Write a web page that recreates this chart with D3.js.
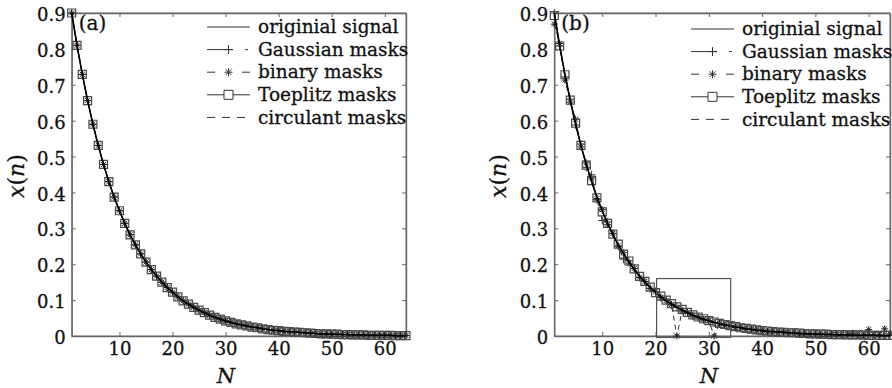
<!DOCTYPE html>
<html>
<head>
<meta charset="utf-8">
<script src="https://cdnjs.cloudflare.com/ajax/libs/d3/7.8.5/d3.min.js"></script>
<style>
body { margin: 0; background: #fff; }
svg { display: block; }
svg text { font-family: "DejaVu Serif", "Liberation Serif", serif; fill: #111; stroke: #111; stroke-width: 0.3px; }
</style>
</head>
<body>
<div id="chart"></div>
<script>
// sample index n = 1..64
var nIndex = d3.range(1, 65);

var xTicks = [10, 20, 30, 40, 50, 60];
var yTicks = [0, 0.1, 0.2, 0.3, 0.4, 0.5, 0.6, 0.7, 0.8, 0.9];

var legendNames = ["originial signal", "Gaussian masks", "binary masks", "Toeplitz masks", "circulant masks"];

// original signal
var signal = [0.900,0.810,0.729,0.656,0.590,0.531,0.478,0.430,0.387,0.349,
              0.314,0.282,0.254,0.229,0.206,0.185,0.167,0.150,0.135,0.122,
              0.109,0.098,0.089,0.080,0.072,0.065,0.058,0.052,0.047,0.042,
              0.038,0.034,0.031,0.028,0.025,0.023,0.020,0.018,0.016,0.015,
              0.013,0.012,0.011,0.010,0.009,0.008,0.007,0.006,0.006,0.005,
              0.005,0.004,0.004,0.003,0.003,0.003,0.002,0.002,0.002,0.002,
              0.002,0.001,0.001,0.001];

// panel (b) reconstructions
var gaussianB = [0.900,0.808,0.722,0.660,0.588,0.535,0.470,0.449,0.380,0.322,
                 0.318,0.285,0.250,0.214,0.210,0.188,0.163,0.152,0.132,0.124,
                 0.107,0.100,0.086,0.082,0.070,0.066,0.056,0.053,0.045,0.043,
                 0.037,0.035,0.030,0.029,0.024,0.024,0.019,0.019,0.015,0.016,
                 0.012,0.013,0.010,0.012,0.008,0.010,0.006,0.007,0.005,0.006,
                 0.004,0.005,0.003,0.005,0.002,0.004,0.003,0.003,0.001,0.004,
                 0.002,0.003,0.001,0.002];

var binaryB = [0.869,0.815,0.713,0.652,0.604,0.527,0.482,0.440,0.383,0.352,
               0.310,0.286,0.251,0.232,0.203,0.188,0.164,0.152,0.133,0.123,
               0.107,0.099,0.088,0.000,0.071,0.066,0.057,0.053,0.046,0.043,
               0.000,0.035,0.030,0.029,0.024,0.023,0.019,0.019,0.016,0.015,
               0.012,0.013,0.010,0.011,0.009,0.010,0.006,0.008,0.005,0.006,
               0.004,0.005,0.004,0.004,0.003,0.004,0.008,0.003,0.002,0.018,
               0.003,0.004,0.020,0.006];

var toeplitzB = [0.893,0.808,0.728,0.657,0.593,0.531,0.476,0.433,0.385,0.346,
                 0.314,0.284,0.256,0.228,0.209,0.187,0.166,0.152,0.136,0.121,
                 0.111,0.100,0.090,0.081,0.074,0.066,0.059,0.053,0.048,0.043,
                 0.039,0.035,0.032,0.029,0.026,0.023,0.021,0.019,0.017,0.015,
                 0.014,0.012,0.011,0.010,0.009,0.009,0.008,0.007,0.006,0.006,
                 0.005,0.005,0.004,0.004,0.004,0.003,0.003,0.003,0.003,0.002,
                 0.002,0.002,0.002,0.002];

// zoom box drawn in panel (b): [n0, n1, y0, y1]
var zoomBox = [20.2, 34.1, -0.004, 0.16];

var W = 892, H = 388;
var svg = d3.select("#chart").append("svg")
    .attr("width", W)
    .attr("height", H);
svg.append("rect").attr("width", W).attr("height", H).attr("fill", "#fff");

// marker shapes
function squarePath(s) {
    var p = d3.path();
    p.rect(-s / 2, -s / 2, s, s);
    return p.toString();
}
function plusPath(s) {
    var p = d3.path();
    p.moveTo(-s / 2, 0); p.lineTo(s / 2, 0);
    p.moveTo(0, -s / 2); p.lineTo(0, s / 2);
    return p.toString();
}
function starPath(s) {
    var p = d3.path(), d = s / 2 * 0.72;
    p.moveTo(-s / 2, 0); p.lineTo(s / 2, 0);
    p.moveTo(0, -s / 2); p.lineTo(0, s / 2);
    p.moveTo(-d, -d); p.lineTo(d, d);
    p.moveTo(-d, d); p.lineTo(d, -d);
    return p.toString();
}

var series = [
    {key: "gaussian", dash: "9,4,2,4", marker: plusPath(8), msw: 1, mcol: "#333", lcol: "#333", lw: 1},
    {key: "binary", dash: "5,4", marker: starPath(7), msw: 1, mcol: "#222", lcol: "#333", lw: 1},
    {key: "toeplitz", dash: null, marker: squarePath(8), msw: 1.2, mcol: "#4a4a4a", lcol: "#333", lw: 1},
    {key: "circulant", dash: "6,5", marker: null, lcol: "#333", lw: 1}
];

function drawPanel(opt) {
    var g = svg.append("g");
    var x = d3.scaleLinear().domain([1, 64]).range([opt.left, opt.right]);
    var y = d3.scaleLinear().domain([0, 0.9]).range([336, 13]);

    // box
    g.append("rect")
        .attr("x", opt.left).attr("y", y(0.9))
        .attr("width", opt.right - opt.left).attr("height", y(0) - y(0.9))
        .attr("fill", "none").attr("stroke", "#888").attr("stroke-width", 1);

    var fmt = function(d) { return d === 0 ? "0" : d3.format(".1f")(d); };

    var axL = g.append("g")
        .attr("transform", "translate(" + opt.left + ",0)")
        .call(d3.axisLeft(y).tickValues(yTicks).tickFormat(fmt).tickSizeInner(-4).tickSizeOuter(0).tickPadding(6));
    var axB = g.append("g")
        .attr("transform", "translate(0," + y(0) + ")")
        .call(d3.axisBottom(x).tickValues(xTicks).tickSizeInner(-4).tickSizeOuter(0).tickPadding(6));
    g.append("g")
        .attr("transform", "translate(" + opt.right + ",0)")
        .call(d3.axisRight(y).tickValues(yTicks).tickFormat("").tickSizeInner(-4).tickSizeOuter(0));
    g.append("g")
        .attr("transform", "translate(0," + y(0.9) + ")")
        .call(d3.axisTop(x).tickValues(xTicks).tickFormat("").tickSizeInner(-4).tickSizeOuter(0));

    g.selectAll(".domain").attr("stroke", "#666").attr("stroke-width", 1.4);
    g.selectAll(".tick line").attr("stroke", "#666");
    g.selectAll("g").attr("font-family", null).attr("font-size", null);
    g.selectAll(".tick text")
        .style("font-family", "'DejaVu Serif', serif")
        .style("font-size", "18px")
        .attr("fill", "#111");
    axL.selectAll(".tick text").attr("dy", "0.42em");

    // axis titles
    g.append("text")
        .attr("x", opt.nLabelX).attr("y", 383)
        .attr("text-anchor", "middle")
        .style("font-size", "21px").style("font-style", "italic")
        .text("N");
    var yl = g.append("text")
        .attr("transform", "translate(" + opt.yLabelX + ",176) rotate(-90)")
        .attr("text-anchor", "middle")
        .style("font-size", "22px");
    yl.append("tspan").style("font-style", "italic").text("x");
    yl.append("tspan").text("(");
    yl.append("tspan").style("font-style", "italic").text("n");
    yl.append("tspan").text(")");

    // panel tag
    g.append("text")
        .attr("x", opt.left + 7).attr("y", 30)
        .style("font-size", "20px")
        .text(opt.tag);

    var line = d3.line()
        .x(function(d, i) { return x(nIndex[i]); })
        .y(function(d) { return y(d); });

    series.forEach(function(s) {
        var vals = opt.data[s.key];
        g.append("path")
            .datum(vals)
            .attr("d", line)
            .attr("fill", "none")
            .attr("stroke", s.lcol)
            .attr("stroke-width", s.lw)
            .attr("stroke-dasharray", s.dash);
        if (s.marker) {
            g.append("g").selectAll("path")
                .data(vals)
                .join("path")
                .attr("transform", function(d, i) { return "translate(" + x(nIndex[i]) + "," + y(d) + ")"; })
                .attr("d", s.marker)
                .attr("fill", "none")
                .attr("stroke", s.mcol)
                .attr("stroke-width", s.msw);
        }
    });

    // original signal on top
    g.append("path")
        .datum(opt.data.signal)
        .attr("d", line)
        .attr("fill", "none")
        .attr("stroke", "#000")
        .attr("stroke-width", 1.6);

    if (opt.box) {
        g.append("rect")
            .attr("x", x(opt.box[0])).attr("y", y(opt.box[3]))
            .attr("width", x(opt.box[1]) - x(opt.box[0]))
            .attr("height", y(opt.box[2]) - y(opt.box[3]))
            .attr("fill", "none").attr("stroke", "#555").attr("stroke-width", 1.2);
    }

    // legend
    var lg = g.append("g");
    legendNames.forEach(function(name, i) {
        var cy = opt.legY + i * 22.6;
        var x0 = opt.legX, x1 = opt.legX + 43, xm = (x0 + x1) / 2;
        var row = lg.append("g");
        var dash = [null, "26,12,3,40", "8,27,8", null, "8,7"][i];
        row.append("line")
            .attr("x1", x0).attr("x2", x1).attr("y1", cy).attr("y2", cy)
            .attr("stroke", "#333").attr("stroke-width", 1)
            .attr("stroke-dasharray", dash);
        var mk = [null, plusPath(9), starPath(8), squarePath(9), null][i];
        if (mk) {
            row.append("path")
                .attr("transform", "translate(" + xm + "," + cy + ")")
                .attr("d", mk)
                .attr("fill", i === 3 ? "#fff" : "none")
                .attr("stroke", "#333").attr("stroke-width", 1);
        }
        row.append("text")
            .attr("x", x1 + 8).attr("y", cy)
            .attr("dy", "0.33em")
            .style("font-size", "18.5px")
            .text(name);
    });
}

drawPanel({
    left: 71.7, right: 406, tag: "(a)", nLabelX: 226, yLabelX: 24,
    legX: 207, legY: 27,
    data: {signal: signal, gaussian: signal, binary: signal, toeplitz: signal, circulant: signal}
});

drawPanel({
    left: 554.3, right: 890, tag: "(b)", nLabelX: 709, yLabelX: 506,
    legX: 691, legY: 29,
    box: zoomBox,
    data: {signal: signal, gaussian: gaussianB, binary: binaryB, toeplitz: toeplitzB, circulant: signal}
});
</script>
</body>
</html>
